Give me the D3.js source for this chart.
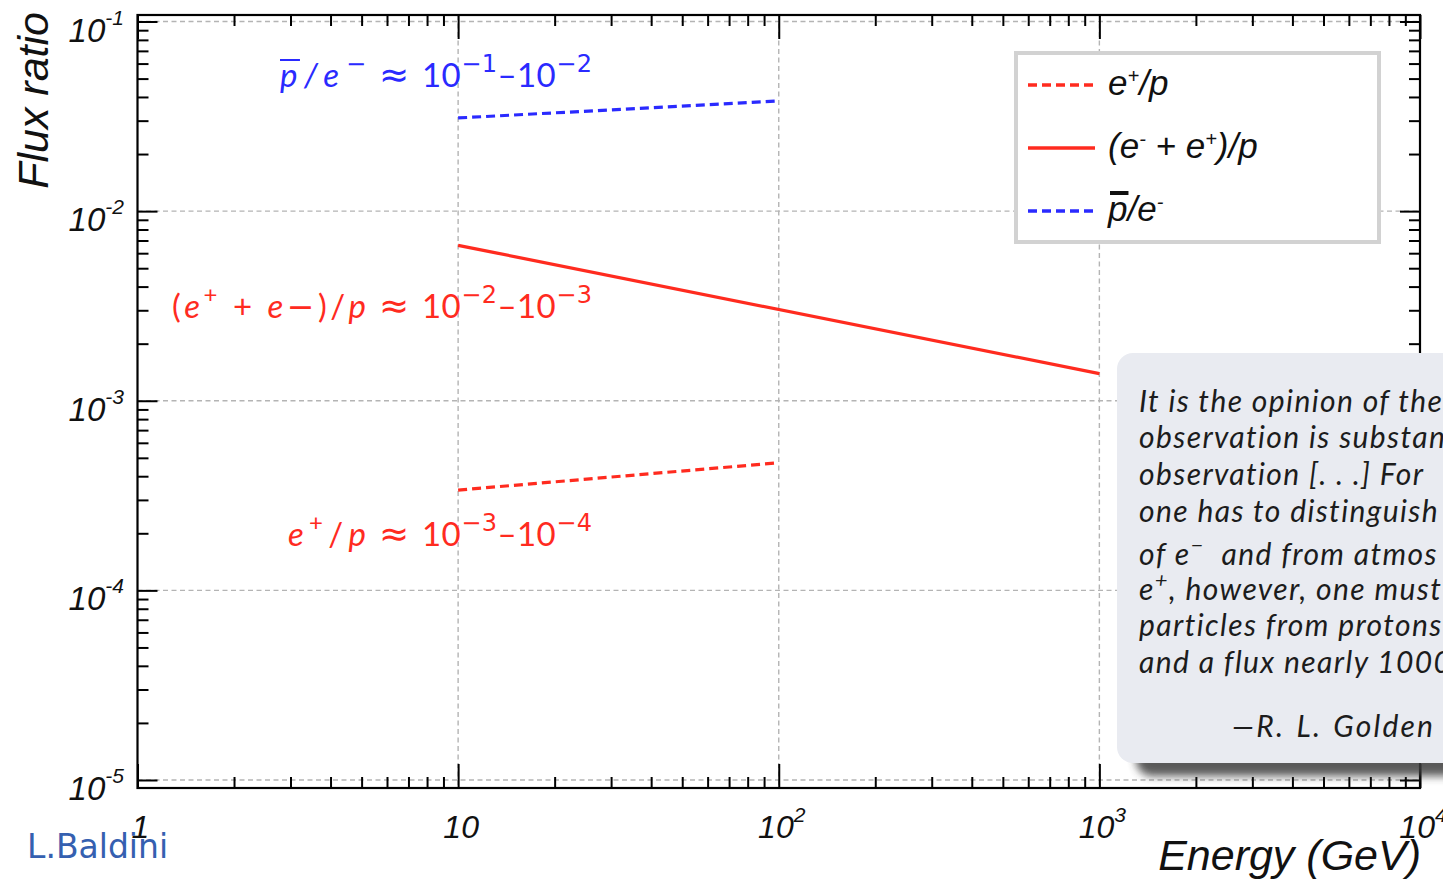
<!DOCTYPE html>
<html>
<head>
<meta charset="utf-8">
<script src="https://cdn.jsdelivr.net/npm/d3@7"></script>
<style>
  body { margin: 0; background: #fff; }
  svg { display: block; }
  text { white-space: pre; }
</style>
</head>
<body>
<svg id="chart" width="1443" height="882"></svg>
<script>
// ---- data -------------------------------------------------------------
const energyAntiproton = [10, 100];
const antiprotonOverElectron = [0.0310, 0.0381];

const energyAllLeptons = [10, 1000];
const leptonsOverProton = [0.0066, 0.00139];

const energyPositron = [10, 100];
const positronOverProton = [3.38e-4, 4.71e-4];

const xTickValues = [1, 10, 100, 1000, 10000];
const xTickBases = ["1", "10", "10", "10", "10"];
const xTickExponents = ["", "", "2", "3", "4"];

const yTickValues = [1e-1, 1e-2, 1e-3, 1e-4, 1e-5];
const yTickBases = ["10", "10", "10", "10", "10"];
const yTickExponents = ["-1", "-2", "-3", "-4", "-5"];

// order-of-magnitude estimates written next to each curve
const ratioRanges = [
  ["\u22121", "\u22122"],
  ["\u22122", "\u22123"],
  ["\u22123", "\u22124"]
];

const quoteLines = [
  "It is the opinion of the",
  "observation is substan",
  "observation [. . .] For",
  "one has to distinguish",
  null, // "of e⁻ ..." built with a superscript below
  null, // "e⁺, ..." built with a superscript below
  "particles from protons",
  "and a flux nearly 1000"
];

// ---- layout -----------------------------------------------------------
const RED = "#ff2b1f";
const BLUE = "#2a2aff";
const frame = { left: 137.5, right: 1420, top: 15, bottom: 788 };

const svg = d3.select("#chart");

const x = d3.scaleLog().domain([1, 1e4]).range([frame.left, frame.right]);
const y = d3.scaleLog()
  .domain([Math.pow(10, -5.0422), Math.pow(10, -0.9657)])
  .range([frame.bottom, frame.top]);

const isDecade = v => Math.abs(Math.log10(v) - Math.round(Math.log10(v))) < 1e-6;
const xMinor = x.ticks().filter(v => !isDecade(v));
const yMinor = y.ticks().filter(v => !isDecade(v));

// blur used for the quotation box shadow
const defs = svg.append("defs");
defs.append("filter").attr("id", "soft")
  .attr("x", "-10%").attr("y", "-10%").attr("width", "130%").attr("height", "130%")
  .append("feGaussianBlur").attr("stdDeviation", 4);

// ---- grid -------------------------------------------------------------
const grid = svg.append("g").attr("stroke", "#b4b4b4").attr("stroke-width", 1.4)
  .attr("stroke-dasharray", "5,3.5");
grid.selectAll("line.h").data(yTickValues).join("line").attr("class", "h")
  .attr("x1", frame.left).attr("x2", frame.right)
  .attr("y1", d => y(d)).attr("y2", d => y(d));
grid.selectAll("line.v").data(xTickValues.slice(1, -1)).join("line").attr("class", "v")
  .attr("x1", d => x(d)).attr("x2", d => x(d))
  .attr("y1", frame.top).attr("y2", frame.bottom);

// ---- axes (ticks pointing inward on all four sides) --------------------
function tickAxis(axis, tx, ty, values, size) {
  const g = svg.append("g").attr("transform", `translate(${tx},${ty})`)
    .call(axis.tickValues(values).tickSize(size).tickFormat(""));
  g.select(".domain").remove();
  g.selectAll(".tick line").attr("stroke", "#000").attr("stroke-width", 2);
  return g;
}
tickAxis(d3.axisTop(x), 0, frame.bottom, xTickValues, 24);
tickAxis(d3.axisTop(x), 0, frame.bottom, xMinor, 11);
tickAxis(d3.axisBottom(x), 0, frame.top, xTickValues, 24);
tickAxis(d3.axisBottom(x), 0, frame.top, xMinor, 11);
tickAxis(d3.axisRight(y), frame.left, 0, yTickValues, 20);
tickAxis(d3.axisRight(y), frame.left, 0, yMinor, 11);
tickAxis(d3.axisLeft(y), frame.right, 0, yTickValues, 20);
tickAxis(d3.axisLeft(y), frame.right, 0, yMinor, 11);

svg.append("rect")
  .attr("x", frame.left).attr("y", frame.top)
  .attr("width", frame.right - frame.left).attr("height", frame.bottom - frame.top)
  .attr("fill", "none").attr("stroke", "#000").attr("stroke-width", 2.2);

// ---- tick labels -------------------------------------------------------
const tickFont = "'Liberation Sans', Arial, sans-serif";
const xLab = svg.append("g").attr("font-family", tickFont).attr("font-style", "italic")
  .attr("fill", "#111");
xTickValues.forEach((v, i) => {
  const t = xLab.append("text").attr("x", x(v) + 3).attr("y", 838)
    .attr("text-anchor", "middle").attr("font-size", 32);
  t.append("tspan").text(xTickBases[i]);
  if (xTickExponents[i]) {
    t.append("tspan").attr("font-size", 21).attr("dy", -16).text(xTickExponents[i]);
  }
});
const yLab = svg.append("g").attr("font-family", tickFont).attr("font-style", "italic")
  .attr("fill", "#111");
yTickValues.forEach((v, i) => {
  const t = yLab.append("text").attr("x", 124).attr("y", y(v) + 20)
    .attr("text-anchor", "end").attr("font-size", 33);
  t.append("tspan").text(yTickBases[i]);
  t.append("tspan").attr("font-size", 21).attr("dy", -17).text(yTickExponents[i]);
});

// axis titles
svg.append("text").attr("transform", "translate(48,12) rotate(-90)")
  .attr("text-anchor", "end").attr("font-family", tickFont).attr("font-style", "italic")
  .attr("font-size", 43).attr("fill", "#111").text("Flux ratio");
svg.append("text").attr("x", 1421).attr("y", 870)
  .attr("text-anchor", "end").attr("font-family", tickFont).attr("font-style", "italic")
  .attr("font-size", 43).attr("fill", "#111").text("Energy (GeV)");

// ---- series ------------------------------------------------------------
const line = d3.line().x(d => x(d[0])).y(d => y(d[1]));
const series = [
  { e: energyAntiproton, v: antiprotonOverElectron, color: BLUE, dash: "9,5" },
  { e: energyAllLeptons, v: leptonsOverProton, color: RED, dash: null },
  { e: energyPositron, v: positronOverProton, color: RED, dash: "9,5" }
];
series.forEach(s => {
  svg.append("path").datum(d3.zip(s.e, s.v)).attr("d", line)
    .attr("fill", "none").attr("stroke", s.color).attr("stroke-width", 3.2)
    .attr("stroke-dasharray", s.dash);
});

// ---- text with superscripts / overlines --------------------------------
// segment flags: i = italic, sup = superscript, o = overline, sym = symbol font
function mathText(g, px, py, parts, opts) {
  const t = g.append("text").attr("x", px).attr("y", py)
    .attr("text-anchor", opts.anchor || "start")
    .attr("font-family", opts.family).attr("font-size", opts.size)
    .attr("fill", opts.color);
  if (opts.letterSpacing) t.attr("letter-spacing", opts.letterSpacing);
  let raised = false;
  const overs = [];
  parts.forEach(p => {
    const s = t.append("tspan").text(p.t);
    if (p.i) s.attr("font-style", "italic");
    if (p.sym) s.attr("font-family", "'DejaVu Sans', sans-serif");
    if (p.sup) {
      s.attr("font-size", opts.supSize);
      if (!raised) { s.attr("dy", -opts.raise); raised = true; }
    } else if (raised) { s.attr("dy", opts.raise); raised = false; }
    if (p.o) overs.push(s);
  });
  if (opts.fit) {
    // spread the expression out to the requested width
    const w = t.node().getBBox().width;
    const txt = t.text();
    t.attr("letter-spacing", (opts.fit - w) / Math.max(1, txt.length - 1));
  }
  overs.forEach(s => {
    const b = s.node().getBBox();
    g.append("rect").attr("x", b.x + (opts.overShift || 0)).attr("y", b.y + (opts.overY || 2))
      .attr("width", b.width - (opts.overTrim || 1)).attr("height", opts.overW || 2).attr("fill", opts.color);
  });
  return t;
}

const noteFont = "Lato, 'Open Sans', sans-serif";
const notes = svg.append("g");
const noteOpts = { family: noteFont, size: 33, supSize: 24, raise: 15 };
const noteRows = [
  { color: BLUE, base: 87, start: 280,
    left: [{ t: "p", i: 1, o: 1 }, { t: "/", i: 1 }, { t: "e", i: 1 }, { t: "\u2212", sup: 1, sym: 1 }] },
  { color: RED, base: 318, start: 172,
    left: [{ t: "(" }, { t: "e", i: 1 }, { t: "+", sup: 1 }, { t: " + " }, { t: "e", i: 1 },
           { t: "\u2212", sym: 1 }, { t: ")/" }, { t: "p", i: 1 }] },
  { color: RED, base: 546, start: 288,
    left: [{ t: "e", i: 1 }, { t: "+", sup: 1 }, { t: "/" }, { t: "p", i: 1 }] }
];
noteRows.forEach((r, k) => {
  const o = Object.assign({}, noteOpts, { color: r.color });
  // left-hand ratio, stretched between its start and the approx sign
  mathText(notes, r.start, r.base, r.left,
    Object.assign({}, o, { fit: 366 - r.start, overY: 5, overTrim: 4 }));
  mathText(notes, 394, r.base, [{ t: "\u2248", sym: 1 }],
    Object.assign({}, o, { anchor: "middle", size: 36 }));
  const [a, b] = ratioRanges[k];
  mathText(notes, 422, r.base, [
    { t: "10" }, { t: a, sup: 1, sym: 1 }, { t: "\u201310" }, { t: b, sup: 1, sym: 1 }
  ], Object.assign({}, o, { fit: 170 }));
});

// ---- legend ------------------------------------------------------------
const leg = svg.append("g");
leg.append("rect").attr("x", 1016).attr("y", 53).attr("width", 363).attr("height", 189)
  .attr("fill", "#fff").attr("stroke", "#d2d2d2").attr("stroke-width", 4);
const legendRows = [
  { color: RED, dash: "9,5", y: 85, parts: [{ t: "e" }, { t: "+", sup: 1 }, { t: "/p" }] },
  { color: RED, dash: null, y: 148, parts: [{ t: "(e" }, { t: "-", sup: 1 }, { t: " + e" }, { t: "+", sup: 1 }, { t: ")/p" }] },
  { color: BLUE, dash: "9,5", y: 211, parts: [{ t: "p", o: 1 }, { t: "/e" }, { t: "-", sup: 1 }] }
];
legendRows.forEach(r => {
  leg.append("line").attr("x1", 1028).attr("x2", 1095).attr("y1", r.y).attr("y2", r.y)
    .attr("stroke", r.color).attr("stroke-width", 3.5).attr("stroke-dasharray", r.dash);
  const t = mathText(leg, 1108, r.y + 10, r.parts,
    { family: tickFont, size: 35, supSize: 20, raise: 12, color: "#111", overY: 0, overW: 4, overShift: 2 });
  t.attr("font-style", "italic");
});

// ---- quotation box -----------------------------------------------------
const quote = svg.append("g");
quote.append("rect").attr("x", 1136).attr("y", 366).attr("width", 420).attr("height", 410)
  .attr("rx", 16).attr("fill", "#3c3c3c").attr("opacity", 0.85).attr("filter", "url(#soft)");
quote.append("rect").attr("x", 1117).attr("y", 353).attr("width", 420).attr("height", 410)
  .attr("rx", 16).attr("fill", "#e9ebf1");
const qFont = "Lato, 'Open Sans', sans-serif";
const qBase = [412, 448, 485, 522, 565, 600, 636, 673];
const qOpts = { family: qFont, size: 30, supSize: 22, raise: 12, color: "#1c1c1c", letterSpacing: 1.4 };
quoteLines.forEach((s, i) => {
  let parts;
  if (i === 4) parts = [{ t: "of e" }, { t: "\u2212", sup: 1 }, { t: "  and from atmos" }];
  else if (i === 5) parts = [{ t: "e" }, { t: "+", sup: 1 }, { t: ", however, one must" }];
  else parts = [{ t: s }];
  mathText(quote, 1139, qBase[i], parts, qOpts).attr("font-style", "italic");
});
quote.append("text").attr("x", 1232).attr("y", 737).attr("font-family", qFont)
  .attr("font-style", "italic").attr("font-size", 30).attr("letter-spacing", 2.2)
  .attr("word-spacing", 2).attr("fill", "#1c1c1c").text("\u2014R. L. Golden");

// ---- credit ------------------------------------------------------------
svg.append("text").attr("x", 27).attr("y", 858).attr("font-family", "'DejaVu Sans', sans-serif")
  .attr("font-size", 33).attr("fill", "#3560b0").text("L.Baldini");
</script>
</body>
</html>
